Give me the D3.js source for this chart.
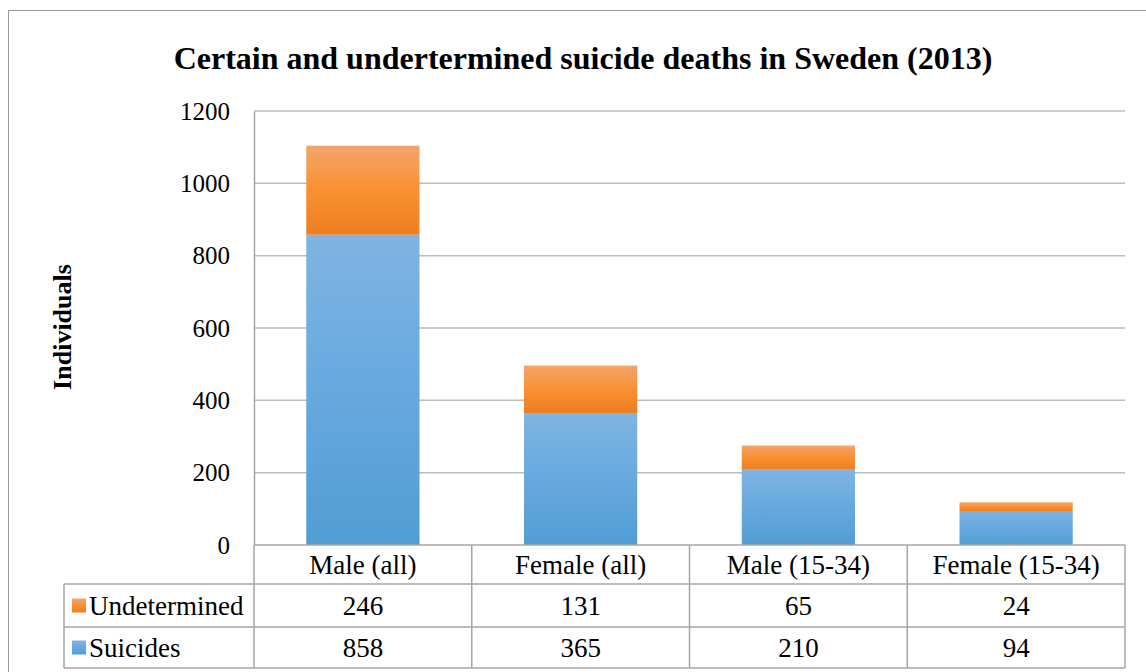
<!DOCTYPE html>
<html lang="en">
<head>
    <meta charset="UTF-8">
    <title>suicide deaths sweden 2013</title>
    <script src="https://d3js.org/d3.v7.min.js"></script>
    <style>
        body { margin: 0; background: #fff; }
        text { font-family: "Liberation Serif", "Times New Roman", serif; fill: #000; }
    </style>
</head>
<body>
    <div class="canvas"></div>
    <script>
        // data
        let categories = ["Male (all)", "Female (all)", "Male (15-34)", "Female (15-34)"];
        let suicides = [858, 365, 210, 94];
        let undetermined = [246, 131, 65, 24];
        let seriesNames = ["Suicides", "Undetermined"];
        let yTicks = [0, 200, 400, 600, 800, 1000, 1200];

        let data = categories.map((c, i) => ({ cat: c, Suicides: suicides[i], Undetermined: undetermined[i] }));

        let W = 1146, H = 672;
        let plotL = 254, plotR = 1125, plotT = 111, plotB = 545;

        let svg = d3.select(".canvas").append("svg")
            .attr("width", W).attr("height", H);

        // gradients for bars
        let defs = svg.append("defs");
        let grads = {
            Suicides: [["0%", "#80b4e2"], ["50%", "#66a9de"], ["100%", "#519dd5"]],
            Undetermined: [["0%", "#f4a46c"], ["50%", "#f99131"], ["100%", "#ec7e21"]]
        };
        Object.keys(grads).forEach(k => {
            let g = defs.append("linearGradient").attr("id", "g_" + k)
                .attr("x1", 0).attr("y1", 0).attr("x2", 0).attr("y2", 1);
            grads[k].forEach(s => g.append("stop").attr("offset", s[0]).attr("stop-color", s[1]));
        });

        // outer border
        svg.append("rect")
            .attr("x", 8.5).attr("y", 10.5).attr("width", 1160).attr("height", 700)
            .attr("fill", "none").attr("stroke", "#9a9a9a").attr("stroke-width", 1);

        // scales
        let x = d3.scaleBand().domain(categories).range([plotL, plotR])
            .paddingInner(0.48).paddingOuter(0.24);
        let y = d3.scaleLinear().domain([0, 1200]).range([plotB, plotT]);

        // gridlines
        svg.append("g").selectAll("line").data(yTicks.slice(1)).enter().append("line")
            .attr("x1", plotL).attr("x2", plotR)
            .attr("y1", d => y(d)).attr("y2", d => y(d))
            .attr("stroke", "#bdbdbd").attr("stroke-width", 1.5);

        // y axis
        let yAxis = svg.append("g")
            .attr("transform", "translate(" + plotL + ",0)")
            .call(d3.axisLeft(y).tickValues(yTicks).tickFormat(d3.format("d")).tickSize(0).tickPadding(24));
        yAxis.select(".domain").attr("stroke", "#a6a6a6").attr("stroke-width", 1.5);
        yAxis.selectAll("text").style("font-family", "Liberation Serif").style("font-size", "25px");

        // stacked bars
        let stack = d3.stack().keys(seriesNames)(data);
        svg.append("g").selectAll("g").data(stack).enter().append("g")
            .attr("fill", d => "url(#g_" + d.key + ")")
            .selectAll("rect").data(d => d).enter().append("rect")
            .attr("x", d => x(d.data.cat))
            .attr("y", d => y(d[1]))
            .attr("width", x.bandwidth())
            .attr("height", d => y(d[0]) - y(d[1]));

        // data table
        let rowH = [545, 584, 627, 668];
        let tleft = 64;
        let lineC = "#a6a6a6";
        let tbl = svg.append("g");
        tbl.append("line").attr("x1", plotL).attr("x2", plotR).attr("y1", rowH[0]).attr("y2", rowH[0])
            .attr("stroke", lineC).attr("stroke-width", 1.5);
        rowH.slice(1).forEach(r => {
            tbl.append("line").attr("x1", tleft).attr("x2", plotR).attr("y1", r).attr("y2", r)
                .attr("stroke", lineC).attr("stroke-width", 1.5);
        });
        let step = x.step();
        d3.range(categories.length + 1).forEach(i => {
            let xx = plotL + i * step;
            tbl.append("line").attr("x1", xx).attr("x2", xx).attr("y1", rowH[0]).attr("y2", rowH[3])
                .attr("stroke", lineC).attr("stroke-width", 1.5);
        });
        tbl.append("line").attr("x1", tleft).attr("x2", tleft).attr("y1", rowH[1]).attr("y2", rowH[3])
            .attr("stroke", lineC).attr("stroke-width", 1.5);

        // category labels
        tbl.selectAll(".cat").data(categories).enter().append("text")
            .attr("x", d => x(d) + x.bandwidth() / 2)
            .attr("y", (rowH[0] + rowH[1]) / 2)
            .attr("dy", "0.35em")
            .attr("text-anchor", "middle")
            .style("font-size", "27px")
            .text(d => d);

        // rows: Undetermined then Suicides
        let rows = [["Undetermined", undetermined], ["Suicides", suicides]];
        rows.forEach((r, ri) => {
            let cy = (rowH[ri + 1] + rowH[ri + 2]) / 2;
            tbl.append("rect").attr("x", 72).attr("y", cy - 7).attr("width", 14).attr("height", 14)
                .attr("fill", "url(#g_" + r[0] + ")");
            tbl.append("text").attr("x", 89).attr("y", cy).attr("dy", "0.35em")
                .style("font-size", "27px").text(r[0]);
            tbl.selectAll(".v" + ri).data(r[1]).enter().append("text")
                .attr("x", (d, i) => x(categories[i]) + x.bandwidth() / 2)
                .attr("y", cy).attr("dy", "0.35em")
                .attr("text-anchor", "middle")
                .style("font-size", "27px")
                .text(d => d);
        });

        // title
        svg.append("text")
            .attr("x", 583).attr("y", 58).attr("dy", "0.35em")
            .attr("text-anchor", "middle")
            .style("font-size", "32px").style("font-weight", "bold")
            .text("Certain and undertermined suicide deaths in Sweden (2013)");

        // y axis title
        svg.append("text")
            .attr("transform", "translate(62," + 327 + ") rotate(-90)")
            .attr("dy", "0.35em")
            .attr("text-anchor", "middle")
            .style("font-size", "26px").style("font-weight", "bold")
            .text("Individuals");
    </script>
</body>
</html>
